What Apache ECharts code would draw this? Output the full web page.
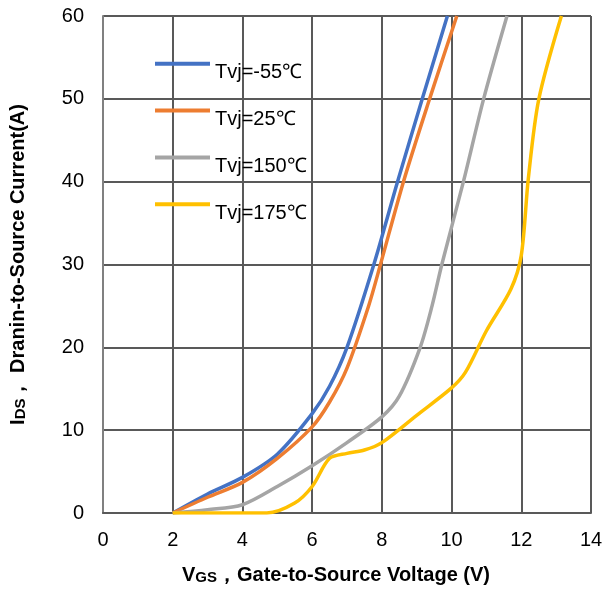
<!DOCTYPE html>
<html>
<head>
<meta charset="utf-8">
<script src="https://cdn.jsdelivr.net/npm/echarts@6/dist/echarts.min.js"></script>
<style>
html, body { margin: 0; padding: 0; background: #fff; }
#chart { width: 606px; height: 597px; }
</style>
</head>
<body>
<div id="chart"></div>
<script>
// Transfer characteristics, ID vs VGS

var seriesNames = ['Tvj=-55℃', 'Tvj=25℃', 'Tvj=150℃', 'Tvj=175℃'];
var seriesColors = ['#4472C4', '#ED7D31', '#A5A5A5', '#FFC000'];

var vgsCold = [2, 3, 4, 5, 6, 6.5, 7, 7.77, 8.45, 9.16, 9.88];
var idsCold = [0, 2.3, 4.3, 7.1, 12, 15.3, 20, 30, 40, 50, 60];

var vgsRoom = [2, 3, 4, 5, 6, 6.5, 7, 7.62, 7.96, 8.62, 9.37, 10.15];
var idsRoom = [0, 1.9, 3.7, 6.6, 10.4, 13.4, 17.5, 25, 30, 40, 50, 60];

var vgs150 = [2, 3, 4, 5, 6, 7, 8, 8.5, 9.1, 9.44, 9.72, 10.34, 10.92, 11.59];
var ids150 = [0, 0.4, 1.0, 3.2, 5.7, 8.5, 11.6, 14.1, 20, 25, 30, 40, 50, 60];

var vgs175 = [2, 3, 4, 4.7, 5.5, 6, 6.5, 7, 7.5, 8, 9, 10, 10.4, 11, 11.7, 12, 12.2, 12.5, 13.15];
var ids175 = [0, 0, 0, 0, 1.2, 3.2, 6.6, 7.2, 7.6, 8.5, 11.8, 15.1, 17, 22, 27, 31.1, 40.3, 49.9, 60];

var xs = [vgsCold, vgsRoom, vgs150, vgs175];
var ys = [idsCold, idsRoom, ids150, ids175];

function pairs(x, y) {
	var out = [];
	for (var i = 0; i < x.length; i++) out.push([x[i], y[i]]);
	return out;
}

var myChart = echarts.init(document.getElementById('chart'), null, { renderer: 'canvas' });

var font = '"Liberation Sans", Arial, sans-serif';
var gridColor = '#595959';

var series = seriesNames.map(function(name, i) {
	return {
		name: name,
		type: 'line',
		data: pairs(xs[i], ys[i]),
		smooth: 0.3,
		symbol: 'none',
		lineStyle: { width: 3.5, color: seriesColors[i] },
		itemStyle: { color: seriesColors[i] }
	};
});

var nameRich = {
	b: { fontFamily: font, fontSize: 20, fontWeight: 'bold', color: '#000' },
	s: { fontFamily: font, fontSize: 15, fontWeight: 'bold', color: '#000', verticalAlign: 'bottom' }
};

var option = {
	animation: false,
	color: seriesColors,
	grid: { left: 102, right: 15, top: 16, bottom: 84 },
	legend: {
		orient: 'vertical',
		left: 148,
		top: 50,
		itemWidth: 55,
		itemHeight: 22,
		itemGap: 19,
		itemStyle: { opacity: 0 },
		lineStyle: { width: 4 },
		formatter: '{t|{name}}',
		textStyle: {
			rich: {
				t: { fontFamily: font, fontSize: 20, color: '#000', padding: [18, 0, 0, 0] }
			}
		},
		data: seriesNames
	},
	xAxis: {
		type: 'value',
		min: 0,
		max: 14,
		interval: 2,
		axisLine: { show: true, lineStyle: { color: gridColor, width: 2 } },
		axisTick: { show: false },
		splitLine: { show: true, lineStyle: { color: gridColor, width: 2 } },
		axisLabel: { fontFamily: font, fontSize: 20, color: '#000', margin: 17 },
		name: '{b|V}{s|GS}{b|，Gate-to-Source Voltage (V)}',
		nameLocation: 'middle',
		nameGap: 52,
		nameTextStyle: { padding: [0, 22, 0, 0], rich: nameRich }
	},
	yAxis: {
		type: 'value',
		min: 0,
		max: 60,
		interval: 10,
		axisLine: { show: true, lineStyle: { color: '#808080', width: 2 } },
		axisTick: { show: false },
		splitLine: { show: true, lineStyle: { color: gridColor, width: 2 } },
		axisLabel: { fontFamily: font, fontSize: 20, color: '#000', margin: 19 },
		name: '{b|I}{s|DS}{b|， Dranin-to-Source Current(A)}',
		nameLocation: 'middle',
		nameGap: 75,
		nameTextStyle: { rich: nameRich }
	},
	series: series
};

myChart.setOption(option);
window.addEventListener('resize', myChart.resize);
</script>
</body>
</html>
